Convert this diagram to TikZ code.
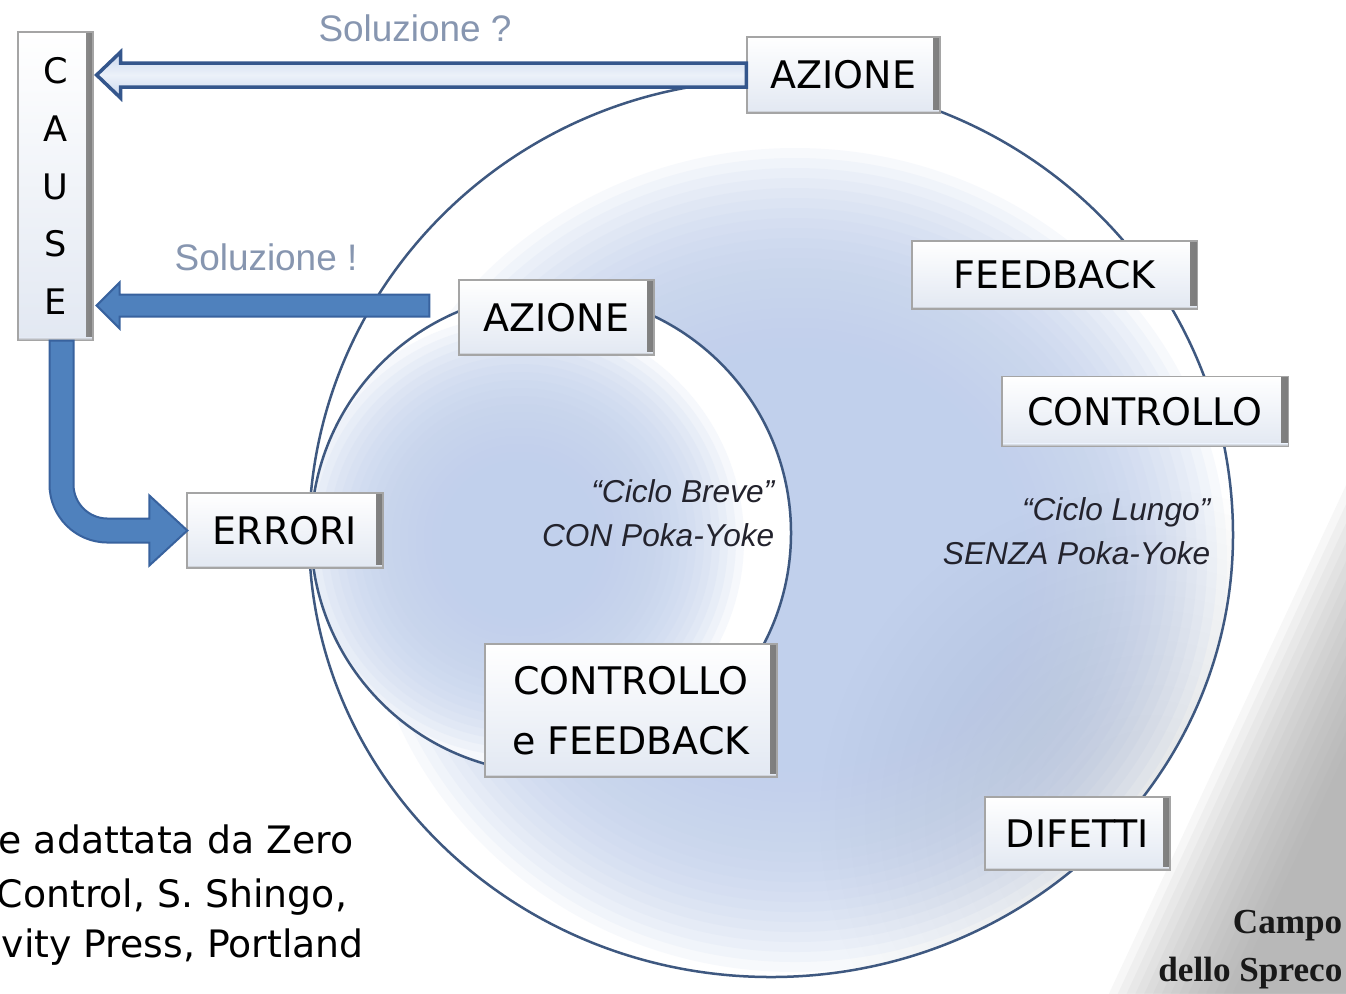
\documentclass[tikz,border=0pt]{standalone}
\usepackage{fontspec}
\usetikzlibrary{calc}
\newfontfamily\dejavu{DejaVu Sans}
\newfontfamily\libsans{Liberation Sans}
\newfontfamily\libserif{Liberation Serif}
\definecolor{cblue}{RGB}{193,208,236}
\definecolor{ringcol}{RGB}{62,88,128}
\definecolor{arrblue}{RGB}{79,129,189}
\definecolor{arrborder}{RGB}{56,98,158}
\definecolor{hollowfill}{RGB}{200,215,238}
\definecolor{hollowline}{RGB}{52,86,140}
\definecolor{solcol}{RGB}{135,150,176}
\definecolor{boxline}{RGB}{165,165,165}
\definecolor{bevel}{RGB}{125,125,125}
\definecolor{boxbot}{RGB}{226,232,242}
\definecolor{cornergray}{RGB}{165,165,165}
\definecolor{itcol}{RGB}{35,35,45}
\newcommand\eggpath{(309,535) arc[start angle=180,end angle=360,x radius=462,y radius=455] arc[start angle=0,end angle=180,x radius=462,y radius=442] -- cycle}
\tikzset{
  box/.style={draw=boxline, line width=0.012cm, inner sep=0pt, top color=white, bottom color=boxbot,
    font=\dejavu\fontsize{10.8pt}{13pt}\selectfont, text=black,
    path picture={
      \shade[left color=white, right color=bevel] ([xshift=-0.07cm]path picture bounding box.north east) rectangle (path picture bounding box.south east);
      \shade[top color=boxbot, bottom color=bevel!70] ([yshift=0.03cm]path picture bounding box.south west) rectangle (path picture bounding box.south east);
    }},
  ring/.style={draw=ringcol, line width=0.025cm},
  solidarrow/.style={fill=arrblue, draw=arrborder, line width=0.02cm, line join=miter},
  hollowarrow/.style={top color=hollowfill, bottom color=hollowfill, middle color=hollowfill!35!white, draw=hollowline, line width=0.035cm},
  soltext/.style={inner sep=0pt, font=\libsans\fontsize{10.5pt}{12pt}\selectfont, text=solcol},
  ital/.style={inner sep=0pt, align=right, font=\libsans\itshape\fontsize{9pt}{12.5pt}\selectfont, text=itcol},
  cite/.style={inner sep=0pt, font=\dejavu\fontsize{10.75pt}{12pt}\selectfont, text=black},
  campo/.style={inner sep=0pt, font=\libserif\bfseries\fontsize{10pt}{12pt}\selectfont, text=black!90},
}
\begin{document}
\begin{tikzpicture}[x=0.01cm,y=-0.01cm]
\useasboundingbox (0,0) rectangle (1346,993);
\clip (0,0) rectangle (1346,993);
\fill[white] (0,0) rectangle (1346,993);

% grey corner gradient
\foreach \k in {0,...,14}{
  \pgfmathsetmacro\cc{1425+8*\k}
  \pgfmathsetmacro\cd{\cc+2500}
  \fill[cornergray, opacity=0.085] ($(25:\cc)+(115:2500)$) -- ($(25:\cc)+(-65:2500)$) -- ($(25:\cd)+(-65:2500)$) -- ($(25:\cd)+(115:2500)$) -- cycle;
}
% white glow round the big cycle
\foreach \w/\o in {60/0.4,30/0.4}{
  \draw[white, opacity=\o, line width=\w*0.01cm] \eggpath;
}
% big cycle fill: white rim, blue core
\fill[white] \eggpath;
\begin{scope}
  \clip \eggpath;
  \foreach \s in {0,...,25}{
    \fill[cblue, opacity=0.12] (795,560) ellipse[x radius={432-10*\s}, y radius={412-10*\s}];
  }
  \foreach \r in {330,315,...,90}{
    \fill[cornergray, opacity=0.011] (1150,820) circle[radius=\r];
  }
\end{scope}
% short cycle fill
\fill[white] (551,533) circle[radius=240];
\begin{scope}
  \clip (551,533) circle[radius=240];
  \foreach \s in {0,...,22}{
    \fill[cblue, opacity=0.14] (520,540) circle[radius={224-8*\s}];
  }
\end{scope}
% cycle outlines
\draw[ring] \eggpath;
\draw[ring] (551,533) circle[radius=240];

% boxes
\node[box, minimum width=0.75cm, minimum height=3.08cm, align=center,
      font=\dejavu\fontsize{10pt}{16.4pt}\selectfont] (cause) at (55.5,186) {C\\A\\U\\S\\E};
\node[box, minimum width=1.93cm, minimum height=0.76cm] (az1) at (843.5,75) {AZIONE};
\node[box, minimum width=2.85cm, minimum height=0.68cm] (fb) at (1054.5,275) {FEEDBACK};
\node[box, minimum width=2.86cm, minimum height=0.70cm] (ctrl) at (1145,411.5) {CONTROLLO};
\node[box, minimum width=1.95cm, minimum height=0.75cm] (az2) at (556.5,317.5) {AZIONE};
\node[box, minimum width=1.96cm, minimum height=0.75cm] (err) at (285,530.5) {ERRORI};
\node[box, minimum width=2.92cm, minimum height=1.33cm, align=center,
      font=\dejavu\fontsize{10.8pt}{17.1pt}\selectfont] (cf) at (631,710.5) {CONTROLLO\\e FEEDBACK};
\node[box, minimum width=1.85cm, minimum height=0.73cm] (dif) at (1077.5,833.5) {DIFETTI};

% arrows
\coordinate (h1) at ($(cause.east|-az1.west)+(3,0)$);
\draw[hollowarrow] (h1) -- ($(h1)+(24,-23)$) -- ($(h1)+(24,-12)$) -- ($(az1.west)+(0,-12)$)
  -- ($(az1.west)+(0,12)$) -- ($(h1)+(24,12)$) -- ($(h1)+(24,23)$) -- cycle;
\coordinate (h2) at ($(cause.east|-az2.west)+(3,-12)$);
\draw[solidarrow] (h2) -- ($(h2)+(23,-23)$) -- ($(h2)+(23,-11)$) -- ($(az2.west)+(-29,-23)$)
  -- ($(az2.west)+(-29,-1)$) -- ($(h2)+(23,11)$) -- ($(h2)+(23,23)$) -- cycle;
\coordinate (bs) at ($(cause.south)+(6,0)$);
\coordinate (bt) at ($(err.west)+(1,0)$);
\draw[solidarrow] ($(bs)+(-12,0)$) -- ($(bs|-bt)+(-12,-46)$) arc[start angle=180,end angle=90,radius=58]
  -- ($(bt)+(-38,12)$) -- ($(bt)+(-38,35)$) -- (bt) -- ($(bt)+(-38,-35)$) -- ($(bt)+(-38,-12)$)
  -- ($(bs|-bt)+(46,-12)$) arc[start angle=90,end angle=180,radius=34] -- ($(bs)+(12,0)$) -- cycle;

% labels
\node[soltext] (sol1) at (415,28) {Soluzione ?};
\node[soltext] (sol2) at (266,257) {Soluzione !};
\node[ital, anchor=east] (breve) at (775,513) {“Ciclo Breve”\\CON Poka-Yoke};
\node[ital, anchor=east] (lungo) at (1211,531) {“Ciclo Lungo”\\SENZA Poka-Yoke};

\node[cite, anchor=base west] (c1) at (-2,853) {e adattata da Zero};
\node[cite, anchor=base west] (c2) at (-4,907) {Control, S. Shingo,};
\node[cite, anchor=base west] (c3) at (1,957) {vity Press, Portland};

\node[campo, anchor=base east] (cp1) at (1343,933) {Campo};
\node[campo, anchor=base east] (cp2) at (1343,981) {dello Spreco};
\end{tikzpicture}
\end{document}
